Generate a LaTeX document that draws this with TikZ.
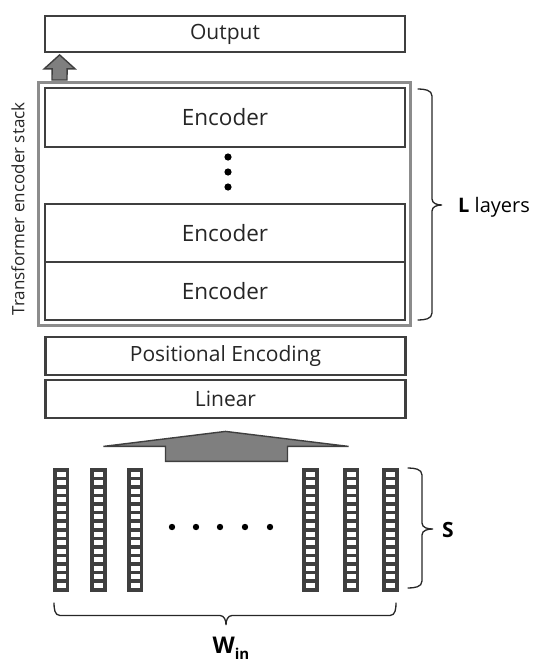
\documentclass[tikz,border=0pt]{standalone}
\usepackage{fontspec}
\setmainfont{Open Sans}
\usetikzlibrary{calc}
\definecolor{boxline}{HTML}{3F3F3F}
\definecolor{stackline}{HTML}{8C8C8C}
\definecolor{arrowfill}{HTML}{7F7F7F}
\definecolor{txt}{HTML}{262626}
\begin{document}
\begin{tikzpicture}[x=1pt,y=-1pt,
  layerbox/.style={draw=boxline, line width=2.8pt, fill=white, minimum width=360pt, inner sep=0pt, text=txt},
  smalltext/.style={font=\fontsize{21}{24}\selectfont},
  enctext/.style={font=\fontsize{22.5}{26}\selectfont},
  stackbox/.style={draw=stackline, line width=3pt, minimum width=372pt, minimum height=243pt, inner sep=0pt},
  blockarrow/.style={draw=boxline, fill=arrowfill, line width=1.4pt, line join=miter},
  cellbox/.style={draw=boxline, fill=white, line width=3.6pt},
  dotmark/.style={fill=black},
  bracket/.style={draw=txt, line width=1.3pt, line cap=round},
  label/.style={text=black, inner sep=0pt}
]
\useasboundingbox (0,0) rectangle (550,672);

% output
\node[layerbox, smalltext, minimum height=36pt] (out) at (225,34) {Output};

% encoder stack
\node[stackbox] (stack) at (224.5,203.5) {};
\node[layerbox, enctext, minimum height=59pt] (enc1) at (225,117.5) {Encoder};
\node[layerbox, enctext, minimum height=58pt] (enc2) at (225,233) {Encoder};
\node[layerbox, enctext, minimum height=58pt] (enc3) at (225,291) {Encoder};
\node[label, text=txt, rotate=90, font=\fontsize{17}{20}\selectfont] (stacklab) at (18,209) {Transformer encoder stack};

\foreach \y in {157,172,187} \fill[dotmark] (228,\y) circle[radius=3.6pt];

% small arrow from stack to output
\coordinate (sa) at ($(stack.north west)+(22.5,0)$);
\coordinate (sb) at ($(out.south west)+(16,1.5)$);
\draw[blockarrow] ($(sa)+(-7.5,-0.5)$) -- ($(sa)+(7.5,-0.5)$) -- ($(sb)+(7.5,14)$) -- ($(sb)+(15.5,14)$) -- (sb) -- ($(sb)+(-15.5,14)$) -- ($(sb)+(-7.5,14)$) -- cycle;

% positional encoding & linear
\node[layerbox, smalltext, minimum height=38pt] (pos) at (225.5,356) {Positional Encoding};
\node[layerbox, smalltext, minimum height=38pt] (lin) at (225.5,399) {Linear};

% big arrow into linear
\coordinate (bt) at ($(lin.south)+(0,12)$);
\draw[blockarrow] (bt) -- ($(bt)+(123,15)$) -- ($(bt)+(62,15)$) -- ($(bt)+(62,30)$) -- ($(bt)+(-60,30)$) -- ($(bt)+(-60,15)$) -- ($(bt)+(-122,15)$) -- cycle;

% input columns
\foreach \cx in {61,98.5,135,310.5,351,390.5} {
  \foreach \i in {0,...,13} {
    \draw[cellbox] (\cx-6.3,469.8+\i*8.57) rectangle ++(12.6,8.57);
  }
}
\foreach \x in {172,196,220,245,270} \fill[dotmark] (\x,527) circle[radius=3.2pt];

% L bracket
\draw[bracket] (418,89) to[out=0,in=90] (432,96) -- (432,199) to[out=-90,in=180] (442,205) to[out=180,in=90] (432,211) -- (432,313) to[out=-90,in=0] (418,320);
\node[label, anchor=west, font=\fontsize{20}{24}\selectfont] (Llab) at (458,207) {\textbf{L} layers};

% S bracket
\draw[bracket] (408,468) to[out=0,in=90] (422,475) -- (422,523) to[out=-90,in=180] (433,529) to[out=180,in=90] (422,535) -- (422,581) to[out=-90,in=0] (408,588);
\node[label, anchor=west, font=\bfseries\fontsize{21}{24}\selectfont] (Slab) at (442,530) {S};

% W bracket
\draw[bracket] (54,603) to[out=-90,in=180] (60,615.5) -- (220,615.5) to[out=0,in=90] (226,625) to[out=90,in=180] (232,615.5) -- (390,615.5) to[out=0,in=-90] (396,603);
\node[label, font=\bfseries\fontsize{23}{26}\selectfont] (Win) at (231,648) {W\raisebox{-0.45ex}{\fontsize{15}{16}\selectfont in}};

\end{tikzpicture}
\end{document}
